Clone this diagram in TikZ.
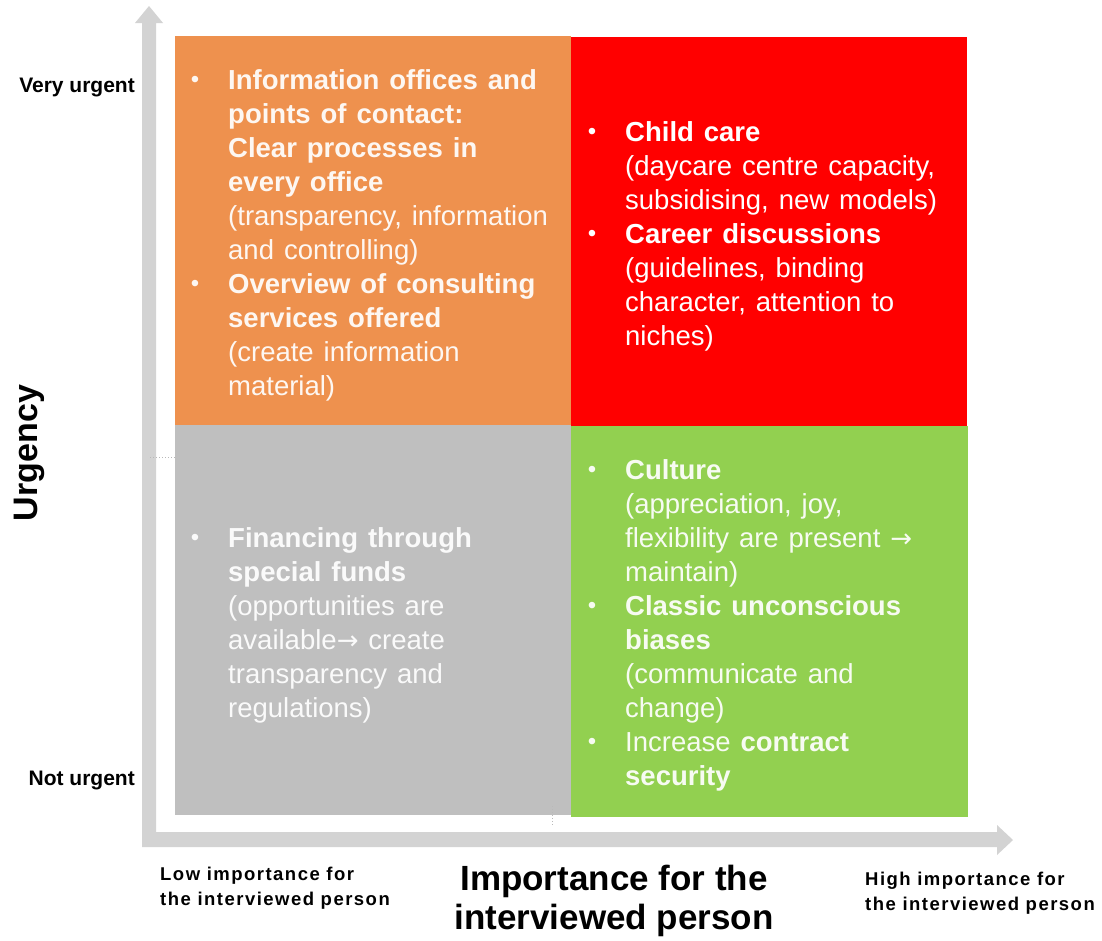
\documentclass[tikz,border=0pt]{standalone}
\usepackage{fontspec}
\setmainfont{Liberation Sans}
\newfontfamily\bodyfont[WordSpace=1.3]{Liberation Sans}
\newfontfamily\trackfont[LetterSpace=8]{Liberation Sans}
\newfontfamily\arrowfont{DejaVu Sans}

\definecolor{qorange}{HTML}{EE914E}
\definecolor{qred}{HTML}{FF0000}
\definecolor{qgrey}{HTML}{BFBFBF}
\definecolor{qgreen}{HTML}{92D050}
\definecolor{axisgrey}{HTML}{D3D3D3}

% invisible rule fixing the height of a first line
\newcommand\tstrut[1]{\rule{0pt}{#1}}
% hanging bullet in front of an item
\newcommand\bul{\makebox[0pt][r]{\raisebox{1.3pt}{\fontsize{24}{24}\selectfont\textbullet}\hspace{29pt}}}
% arrow sign within a line of text
\newcommand\toarrow{{\arrowfont\fontsize{26}{34}\selectfont →}}

\tikzset{
  quad/.style={rectangle, draw=none, inner sep=0pt, anchor=north west},
  qtext/.style={anchor=north west, inner sep=0pt, align=left, text=white,
    font=\bodyfont\fontsize{27.5}{34}\selectfont},
  sidelabel/.style={inner sep=0pt, font=\bfseries\fontsize{21}{24}\selectfont},
  endlabel/.style={anchor=north west, inner sep=0pt, align=left,
    font=\trackfont\bfseries\fontsize{18.5}{25}\selectfont},
  tick/.style={gray!55, dotted, line width=1pt}
}

\begin{document}
\begin{tikzpicture}[x=1pt,y=-1pt]
\useasboundingbox (0,0) rectangle (1102,940);
\fill[white] (0,0) rectangle (1102,940);

% axes: one L-shaped band with an arrowhead at each end
\fill[axisgrey] (149,6) -- (163,23) -- (156,23) -- (156,832) -- (997,832)
  -- (997,825) -- (1013,840) -- (997,855) -- (997,847) -- (142,847)
  -- (142,23) -- (135,23) -- cycle;
\draw[tick] (150,457) -- (175,457);

% quadrants
\node[quad, fill=qorange, minimum width=396pt, minimum height=389pt] (qo) at (175,36) {};
\node[quad, fill=qred,    minimum width=396pt, minimum height=389pt] (qr) at (571,37) {};
\node[quad, fill=qgrey,   minimum width=396pt, minimum height=390pt] (qg) at (175,425) {};
\node[quad, fill=qgreen,  minimum width=397pt, minimum height=391pt] (qn) at (571,426) {};
\draw[tick] (552,806) -- (552,827);

% quadrant contents
\node[qtext, text opacity=0.93] (to) at (228,64) {\tstrut{25pt}\bul\textbf{Information offices and}\\
\textbf{points of contact:}\\
\textbf{Clear processes in}\\
\textbf{every office}\\
(transparency, information\\
and controlling)\\
\bul\textbf{Overview of consulting}\\
\textbf{services offered}\\
(create information\\
material)};

\node[qtext] (tr) at (625,116) {\tstrut{25pt}\bul\textbf{Child care}\\
(daycare centre capacity,\\
subsidising, new models)\\
\bul\textbf{Career discussions}\\
(guidelines, binding\\
character, attention to\\
niches)};

\node[qtext, text opacity=0.93] (tg) at (228,522) {\tstrut{25pt}\bul\textbf{Financing through}\\
\textbf{special funds}\\
(opportunities are\\
available\toarrow{} create\\
transparency and\\
regulations)};

\node[qtext, text opacity=0.93] (tn) at (625,454) {\tstrut{25pt}\bul\textbf{Culture}\\
(appreciation, joy,\\
flexibility are present \toarrow\\
maintain)\\
\bul\textbf{Classic unconscious}\\
\textbf{biases}\\
(communicate and\\
change)\\
\bul Increase \textbf{contract}\\
\textbf{security}};

% axis labels
\node[sidelabel, anchor=base east] (veryurgent) at (135,92) {Very urgent};
\node[sidelabel, anchor=base east] (noturgent) at (135,785) {Not urgent};
\node[rotate=90, anchor=base, inner sep=0pt,
  font=\bfseries\fontsize{34}{40}\selectfont] (urgency) at (37,453) {Urgency};

\node[endlabel] (lowimp) at (160,862) {\tstrut{18pt}Low importance for\\the interviewed person};
\node[endlabel] (highimp) at (865,867) {\tstrut{18pt}High importance for\\the interviewed person};
\node[anchor=north, align=center, inner sep=0pt,
  font=\bfseries\fontsize{35}{39}\selectfont] (title) at (614,860)
  {\tstrut{30pt}Importance for the\\interviewed person};
\end{tikzpicture}
\end{document}
